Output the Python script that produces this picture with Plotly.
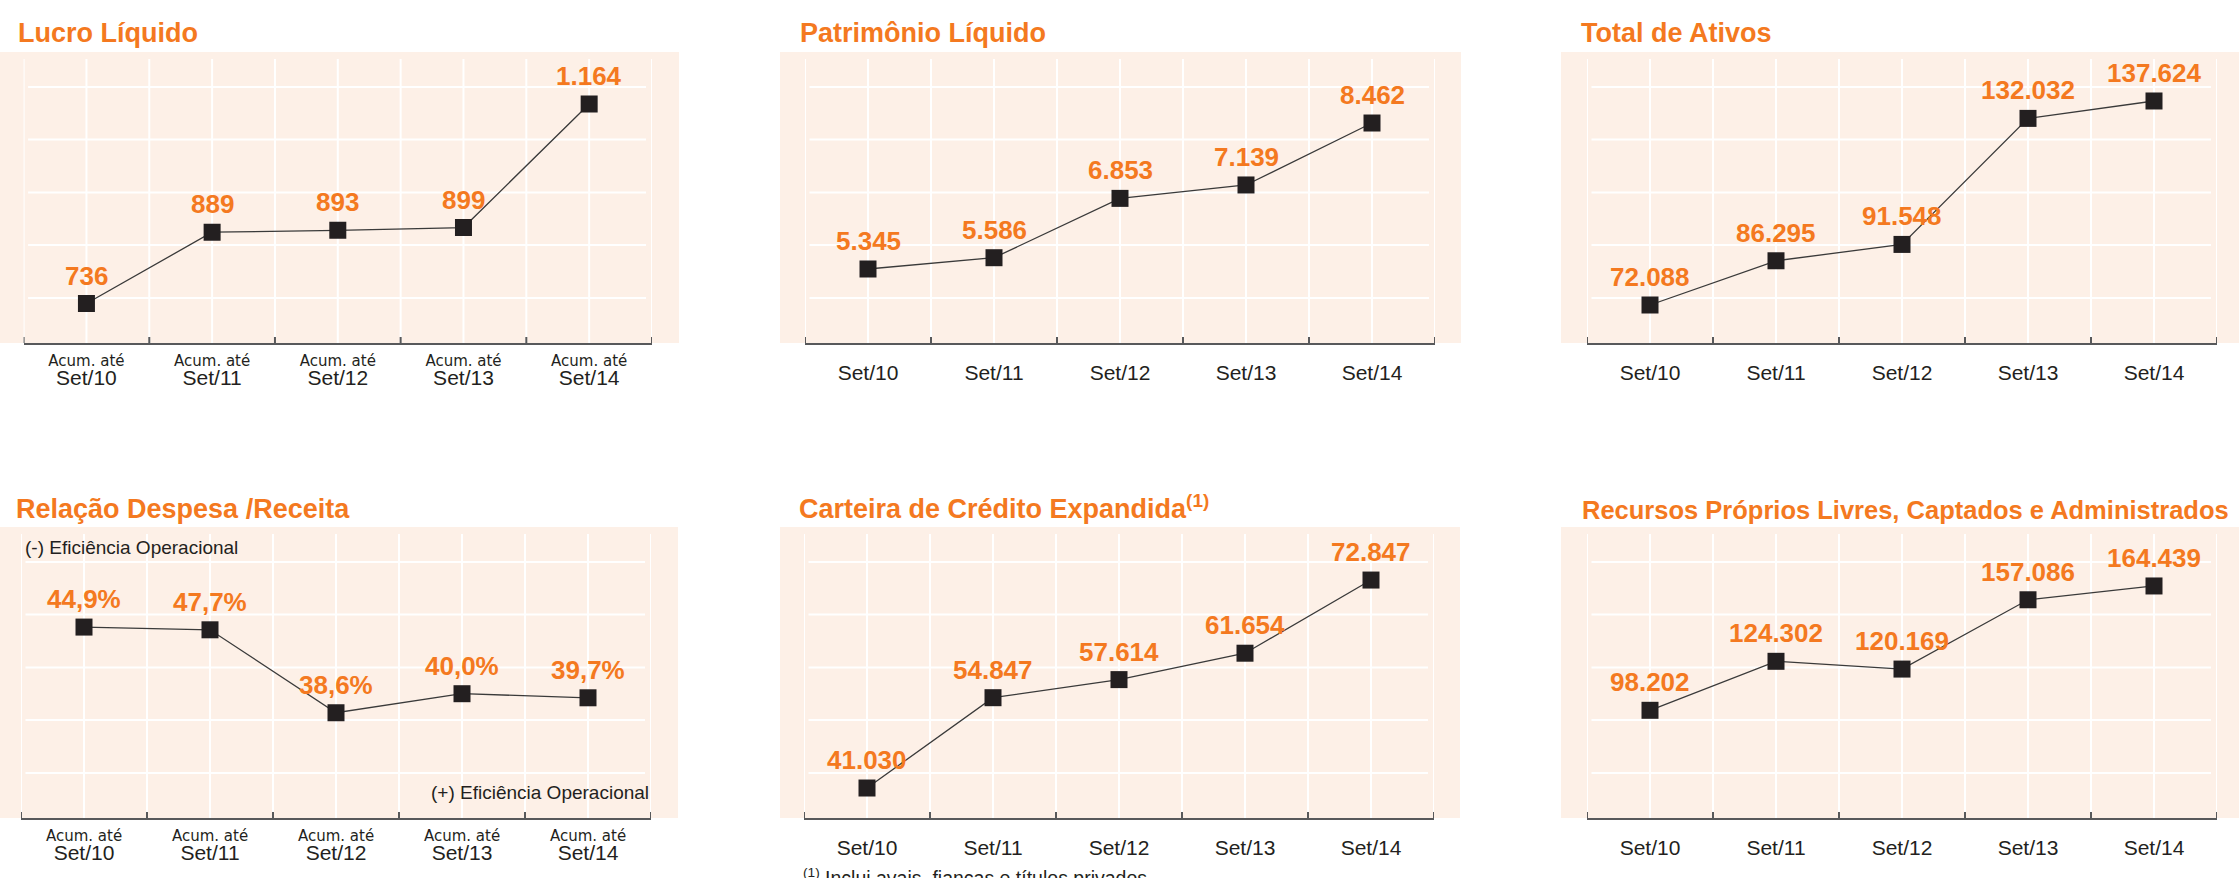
import plotly.graph_objects as go

W, H = 2239, 878

# ---------------- data ----------------
categories = ["Set/10", "Set/11", "Set/12", "Set/13", "Set/14"]
acum_prefix = "Acum. até"

lucro_liquido = [736, 889, 893, 899, 1164]
patrimonio_liquido = [5345, 5586, 6853, 7139, 8462]
total_ativos = [72088, 86295, 91548, 132032, 137624]
despesa_receita = [44.9, 47.7, 38.6, 40.0, 39.7]          # printed values (%)
despesa_receita_drawn = [44.9, 44.7, 38.6, 40.0, 39.7]    # heights at which the markers are drawn in the reference
carteira_credito = [41030, 54847, 57614, 61654, 72847]
recursos = [98202, 124302, 120169, 157086, 164439]

titles = ["Lucro Líquido", "Patrimônio Líquido", "Total de Ativos",
          "Relação Despesa /Receita", "Carteira de Crédito Expandida<sup>(1)</sup>",
          "Recursos Próprios Livres, Captados e Administrados"]
footnote = "<sup>(1)</sup> Inclui avais, fianças e títulos privados"
ef_minus = "(-) Eficiência Operacional"
ef_plus = "(+) Eficiência Operacional"


def br_int(v):
    return f"{v:,}".replace(",", ".")


def br_pct(v):
    return f"{v:.1f}".replace(".", ",") + "%"


# ---------------- style ----------------
ORANGE = "#F47920"
BG = "#FDF0E7"
DARK = "#231F20"
AXIS = "#58595B"
FONT = "Liberation Sans, Arial, sans-serif"

# panel geometry in pixels: bg (x0, x1, top, bottom), axis x extent, title pos, y range
panels = [
    dict(y=lucro_liquido, lab=[br_int(v) for v in lucro_liquido], bg=(0, 679, 52, 343),
         ax=(23.6, 652), tx=16, tsize=27, yr=(651.3, 1275.6), acum=True),
    dict(y=patrimonio_liquido, lab=[br_int(v) for v in patrimonio_liquido], bg=(780, 1461, 52, 343),
         ax=(805, 1435), tx=798, tsize=27, yr=(3765, 9978), acum=False),
    dict(y=total_ativos, lab=[br_int(v) for v in total_ativos], bg=(1561, 2239, 52, 343),
         ax=(1587, 2217), tx=1579, tsize=27, yr=(59881, 153360), acum=False),
    dict(y=despesa_receita_drawn, lab=[br_pct(v) for v in despesa_receita], bg=(0, 678, 527, 818),
         ax=(21, 651), tx=14, tsize=27, yr=(30.86, 52.26), acum=True),
    dict(y=carteira_credito, lab=[br_int(v) for v in carteira_credito], bg=(780, 1460, 527, 818),
         ax=(804, 1434), tx=797, tsize=27, yr=(36441, 80964), acum=False),
    dict(y=recursos, lab=[br_int(v) for v in recursos], bg=(1561, 2239, 527, 818),
         ax=(1587, 2217), tx=1580, tsize=25.5, yr=(40823, 195858), acum=False),
]


def px_x(v):
    return v / W


def px_y(v):
    return 1 - v / H


fig = go.Figure()
shapes = []
annotations = []
xs = list(range(len(categories)))
half_steps = [i * 0.5 - 0.5 for i in range(11)]
bounds = [i - 0.5 for i in range(6)]

for k, p in enumerate(panels):
    n = "" if k == 0 else str(k + 1)
    xa, ya = "x" + n, "y" + n
    bx0, bx1, btop, bbot = p["bg"]
    ax0, ax1 = p["ax"]

    if p["acum"]:
        ticktext = [f"<span style='font-family:DejaVu Sans;font-size:15px'>{acum_prefix}</span><br>"
                    f"<span style='font-size:21px'>{c}</span>" for c in categories]
        tfs = 14.6
        stand = 3
    else:
        ticktext = categories
        tfs = 21
        stand = 10

    fig.add_trace(go.Scatter(
        x=xs, y=p["y"], xaxis=xa, yaxis=ya, mode="lines+markers",
        line=dict(color="#3A3A3A", width=1.3),
        marker=dict(symbol="square", size=17, color=DARK, line=dict(width=0)),
        hoverinfo="skip", showlegend=False))

    fig.layout["xaxis" + n] = dict(
        domain=[px_x(ax0), px_x(ax1)], range=[-0.5, 4.5], anchor=ya,
        tickvals=xs, ticktext=ticktext, ticks="", showgrid=False, zeroline=False,
        showline=True, linecolor=AXIS, linewidth=2,
        tickfont=dict(family=FONT, size=tfs, color=DARK), ticklabelstandoff=stand,
        fixedrange=True)
    fig.layout["yaxis" + n] = dict(
        domain=[px_y(bbot), px_y(btop)], range=list(p["yr"]), anchor=xa,
        visible=False, fixedrange=True)

    # background panel
    shapes.append(dict(type="rect", xref="paper", yref="paper", layer="below",
                       x0=px_x(bx0), x1=px_x(bx1), y0=px_y(bbot), y1=px_y(btop),
                       fillcolor=BG, line=dict(width=0)))
    # horizontal white grid lines
    for off in (35, 87.5, 140.5, 193, 246):
        yy = px_y(btop + off)
        shapes.append(dict(type="line", xref="paper", yref="paper", layer="below",
                           x0=px_x(ax0 + 4.5), x1=px_x(ax1 - 6), y0=yy, y1=yy,
                           line=dict(color="white", width=2)))
    # vertical white grid lines
    hdom = bbot - btop
    for xv in half_steps:
        shapes.append(dict(type="line", xref=xa, yref=ya + " domain", layer="below",
                           x0=xv, x1=xv, y0=0, y1=1 - 7 / hdom,
                           line=dict(color="white", width=2)))
    # tick marks at category boundaries (pointing up)
    for xv in bounds:
        shapes.append(dict(type="line", xref=xa, yref=ya + " domain", layer="above",
                           x0=xv, x1=xv, y0=0, y1=6 / hdom,
                           line=dict(color=AXIS, width=2)))

    # value labels
    for xi, yv, t in zip(xs, p["y"], p["lab"]):
        annotations.append(dict(xref=xa, yref=ya, x=xi, y=yv, text="<b>" + t + "</b>", showarrow=False,
                                yshift=28, yanchor="middle", xanchor="center",
                                font=dict(family=FONT, size=26, color=ORANGE)))

    # title
    base = 43.3 if btop < 100 else 519.5
    annotations.append(dict(xref="paper", yref="paper", x=px_x(p["tx"]),
                            y=px_y(base + 0.212 * p["tsize"] + 1),
                            xanchor="left", yanchor="bottom", text="<b>" + titles[k] + "</b>",
                            showarrow=False, font=dict(family=FONT, size=p["tsize"], color=ORANGE)))

# efficiency notes
annotations.append(dict(xref="paper", yref="paper", x=px_x(23), y=px_y(547), xanchor="left",
                        yanchor="middle", text=ef_minus, showarrow=False,
                        font=dict(family=FONT, size=19, color=DARK)))
annotations.append(dict(xref="paper", yref="paper", x=px_x(651), y=px_y(792), xanchor="right",
                        yanchor="middle", text=ef_plus, showarrow=False,
                        font=dict(family=FONT, size=19, color=DARK)))
# footnote (partly cut by the page edge, as in the reference)
annotations.append(dict(xref="paper", yref="paper", x=px_x(801), y=px_y(891), xanchor="left",
                        yanchor="bottom", text=footnote, showarrow=False,
                        font=dict(family=FONT, size=19.5, color=DARK)))

fig.update_layout(
    width=W, height=H, autosize=False,
    margin=dict(l=0, r=0, t=0, b=0, pad=0),
    paper_bgcolor="white", plot_bgcolor="rgba(0,0,0,0)",
    shapes=shapes, annotations=annotations, showlegend=False,
    font=dict(family=FONT, color=DARK),
)

fig.write_html("out.html", config=dict(displayModeBar=False, responsive=False),
               post_script="document.body.style.margin='0';document.body.style.overflow='hidden';")
